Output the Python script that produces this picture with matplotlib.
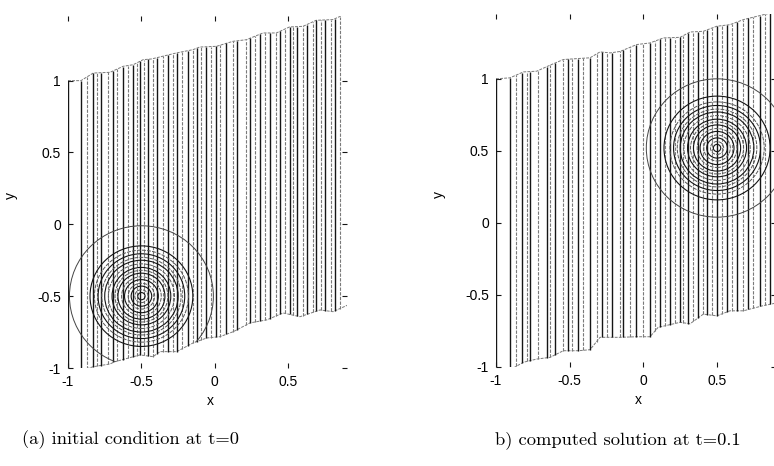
"""Moving-mesh advection test: mesh lines and solution contours at t=0 and t=0.1."""
import numpy as np
import matplotlib
matplotlib.use("Agg")
import matplotlib.pyplot as plt
from matplotlib.patches import Polygon, Circle

plt.rcParams["axes.unicode_minus"] = False

# ---- data ----
# (a) t = 0
a_top_x = [-1.0, -0.912, -0.828, -0.714, -0.624, -0.556, -0.488, -0.431, -0.261, -0.148,
           -0.103, 0.011, 0.124, 0.215, 0.328, 0.419, 0.509, 0.600, 0.690, 0.804, 0.906]
a_top_y = [1.0, 1.0, 1.053, 1.058, 1.100, 1.111, 1.146, 1.151, 1.193, 1.216,
           1.234, 1.239, 1.274, 1.285, 1.332, 1.332, 1.374, 1.378, 1.420, 1.425, 1.471]
a_bot_x = [-1.0, -0.918, -0.828, -0.714, -0.680, -0.510, -0.421, -0.373, -0.260, -0.149,
           -0.055, 0.035, 0.126, 0.240, 0.354, 0.465, 0.580, 0.717, 0.805, 0.907]
a_bot_y = [-1.0, -1.02, -0.991, -0.972, -0.956, -0.909, -0.921, -0.886, -0.886, -0.826,
           -0.791, -0.782, -0.747, -0.686, -0.665, -0.617, -0.643, -0.596, -0.608, -0.561]
a_mesh_x = [-0.912, -0.869, -0.828, -0.805, -0.778, -0.726, -0.692, -0.665, -0.628, -0.594,
            -0.556, -0.533, -0.511, -0.483, -0.454, -0.420, -0.397, -0.352, -0.318, -0.284,
            -0.261, -0.227, -0.182, -0.148, -0.121, -0.091, -0.057, -0.023, 0.011, 0.038,
            0.079, 0.124, 0.151, 0.215, 0.237, 0.271, 0.305, 0.339, 0.373, 0.414,
            0.441, 0.475, 0.509, 0.532, 0.561, 0.600, 0.627, 0.668, 0.690, 0.724,
            0.747, 0.792, 0.815, 0.849]
a_center = (-0.5, -0.5)
a_radii = [0.49, 0.35, 0.32, 0.295, 0.27, 0.25, 0.225, 0.20, 0.18, 0.16,
           0.135, 0.115, 0.09, 0.07, 0.045, 0.025]

# (b) t = 0.1
b_top_x = [-1.0, -0.905, -0.814, -0.724, -0.633, -0.543, -0.441, -0.362, -0.294, -0.226,
           -0.158, -0.045, 0.045, 0.136, 0.249, 0.317, 0.407, 0.498, 0.588, 0.679, 0.906]
b_top_y = [1.0, 1.007, 1.048, 1.053, 1.095, 1.134, 1.141, 1.146, 1.187, 1.180,
           1.190, 1.238, 1.249, 1.284, 1.288, 1.325, 1.330, 1.365, 1.376, 1.411, 1.468]
b_bot_x = [-1.0, -0.905, -0.814, -0.724, -0.633, -0.543, -0.441, -0.362, -0.294, -0.158,
           -0.045, 0.045, 0.100, 0.249, 0.317, 0.407, 0.498, 0.588, 0.679, 0.810, 0.906]
b_bot_y = [-1.0, -1.02, -0.967, -0.945, -0.933, -0.887, -0.887, -0.880, -0.794, -0.794,
           -0.790, -0.790, -0.725, -0.69, -0.70, -0.633, -0.645, -0.61, -0.61, -0.575, -0.555]
b_mesh_x = [-0.905, -0.864, -0.826, -0.792, -0.769, -0.713, -0.656, -0.633, -0.600, -0.543,
            -0.509, -0.486, -0.441, -0.407, -0.362, -0.317, -0.283, -0.249, -0.215, -0.158,
            -0.136, -0.090, -0.050, 0.000, 0.045, 0.079, 0.113, 0.147, 0.181, 0.215,
            0.249, 0.271, 0.305, 0.339, 0.373, 0.407, 0.430, 0.464, 0.498, 0.532,
            0.566, 0.600, 0.633, 0.679, 0.713, 0.747, 0.792, 0.826, 0.860]
b_center = (0.5, 0.52)
b_radii = [0.48, 0.36, 0.32, 0.295, 0.27, 0.25, 0.225, 0.20, 0.18, 0.16,
           0.135, 0.115, 0.09, 0.07, 0.045, 0.025]

captions = ["(a) initial condition at t=0", "b) computed solution at t=0.1"]
xticks = [-1, -0.5, 0, 0.5]
yticks = [-1, -0.5, 0, 0.5, 1]
XLIM = (-1.0, 0.9)
YLIM = (-1.0, 1.45)

DARK, LIGHT = "#151515", "#7a7a7a"
DASH = (0, (3, 1.2))


def fmt(v):
    return f"{v:g}"


def draw_panel(ax, top_x, top_y, bot_x, bot_y, mesh_x, center, radii):
    verts = list(zip(top_x, top_y)) + list(zip(bot_x, bot_y))[::-1]
    dom = Polygon(verts, closed=True, facecolor="none", edgecolor=LIGHT,
                  lw=0.7, ls=DASH, transform=ax.transData, zorder=2)
    ax.add_patch(dom)
    # left boundary drawn solid
    ax.plot([top_x[0], bot_x[0]], [top_y[0], bot_y[0]], color=DARK, lw=1.0)

    mx = np.asarray(mesh_x)
    lo = np.interp(mx, bot_x, bot_y)
    hi = np.interp(mx, top_x, top_y)
    dark = np.arange(len(mx)) % 2 == 0
    ax.vlines(mx[dark], lo[dark], hi[dark], color=DARK, lw=1.0)
    ax.vlines(mx[~dark], lo[~dark], hi[~dark], color=LIGHT, lw=0.8, linestyles=DASH)
    ax.plot([top_x[-1], bot_x[-1]], [top_y[-1], bot_y[-1]], color=LIGHT, lw=0.8, ls=DASH)

    for i, r in enumerate(radii):
        if i == 0:
            kw = dict(edgecolor="#444444", lw=0.7, ls="-")
        elif i % 2:
            kw = dict(edgecolor=DARK, lw=0.8, ls="-")
        else:
            kw = dict(edgecolor="#555555", lw=0.7, ls=(0, (4, 1.2)))
        c = Circle(center, r, facecolor="none", zorder=3, **kw)
        ax.add_patch(c)
        c.set_clip_path(dom)

    ax.set_xlim(*XLIM)
    ax.set_ylim(*YLIM)
    for s in ax.spines.values():
        s.set_visible(False)
    ax.set_xticks(xticks)
    ax.set_xticklabels([fmt(v) for v in xticks])
    ax.set_yticks(yticks)
    ax.set_yticklabels([fmt(v) for v in yticks])
    ax.tick_params(direction="in", top=True, right=True, length=3.5, width=0.8,
                   labelsize=10, pad=5, color=DARK)
    for lab in ax.get_xticklabels() + ax.get_yticklabels():
        lab.set_fontfamily("Liberation Sans")
    ax.set_xlabel("x", fontsize=10, family="Liberation Sans")
    ax.set_ylabel("y", fontsize=10, family="Liberation Sans")
    ax.xaxis.set_label_coords(0.51, -0.075)
    ax.yaxis.set_label_coords(-0.18, 0.49)


fig = plt.figure(figsize=(7.74, 4.66), dpi=100)
ax1 = fig.add_axes([68 / 774, 1 - 368 / 466, 279 / 774, 352 / 466])
ax2 = fig.add_axes([496 / 774, 1 - 367 / 466, 280 / 774, 353 / 466])

draw_panel(ax1, a_top_x, a_top_y, a_bot_x, a_bot_y, a_mesh_x, a_center, a_radii)
draw_panel(ax2, b_top_x, b_top_y, b_bot_x, b_bot_y, b_mesh_x, b_center, b_radii)

fig.text(22 / 774, 1 - 440 / 466, captions[0], family="cmr10", fontsize=13.3, va="center")
fig.text(495 / 774, 1 - 440 / 466, captions[1], family="cmr10", fontsize=13.3, va="center")

fig.savefig("out.png", dpi=100)
